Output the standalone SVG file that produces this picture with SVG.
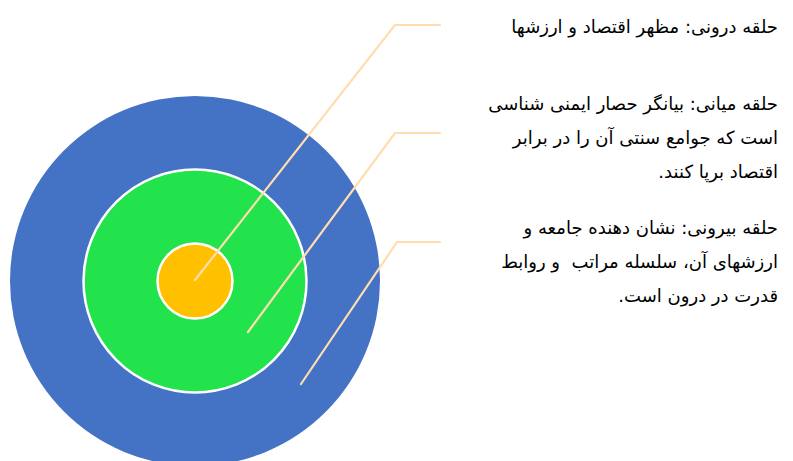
<svg xmlns="http://www.w3.org/2000/svg" width="793" height="461" viewBox="0 0 793 461">
<style>
.ring{stroke:#ffffff;stroke-width:2.5}
.lead{fill:none;stroke:#FFDDB0;stroke-width:2.2;stroke-linecap:round;stroke-linejoin:round}
.lbl{font-family:"DejaVu Sans","Noto Sans",sans-serif;font-size:18px;fill:#000000;direction:rtl;unicode-bidi:embed;white-space:pre}
</style>
<rect width="793" height="461" fill="#ffffff"/>
<g id="outer-ring"><circle cx="195" cy="281" r="185" fill="#4472C4"/></g>
<g id="middle-ring"><circle cx="195" cy="281" r="111.5" fill="#22E34B" class="ring"/></g>
<g id="inner-ring"><circle cx="195" cy="281" r="37.5" fill="#FFC000" class="ring"/></g>
<g id="connectors">
<polyline class="lead" points="195,280 395,25 440,25"/>
<polyline class="lead" points="248,332 395,133 440,133"/>
<polyline class="lead" points="301,384 397,242 440,242"/>
</g>
<g id="label-inner">
<text class="lbl" x="778" y="33" text-anchor="start">حلقه درونی: مظهر اقتصاد و ارزشها</text>
</g>
<g id="label-middle">
<text class="lbl" x="778" y="110" text-anchor="start">حلقه میانی: بیانگر حصار ایمنی شناسی</text>
<text class="lbl" x="778" y="144" text-anchor="start">است که جوامع سنتی آن را در برابر</text>
<text class="lbl" x="778" y="178" text-anchor="start">اقتصاد برپا کنند.</text>
</g>
<g id="label-outer">
<text class="lbl" x="778" y="234" text-anchor="start">حلقه بیرونی: نشان دهنده جامعه و</text>
<text class="lbl" x="778" y="268" text-anchor="start" xml:space="preserve">ارزشهای آن، سلسله مراتب  و روابط</text>
<text class="lbl" x="778" y="302" text-anchor="start">قدرت در درون است.</text>
</g>
</svg>
